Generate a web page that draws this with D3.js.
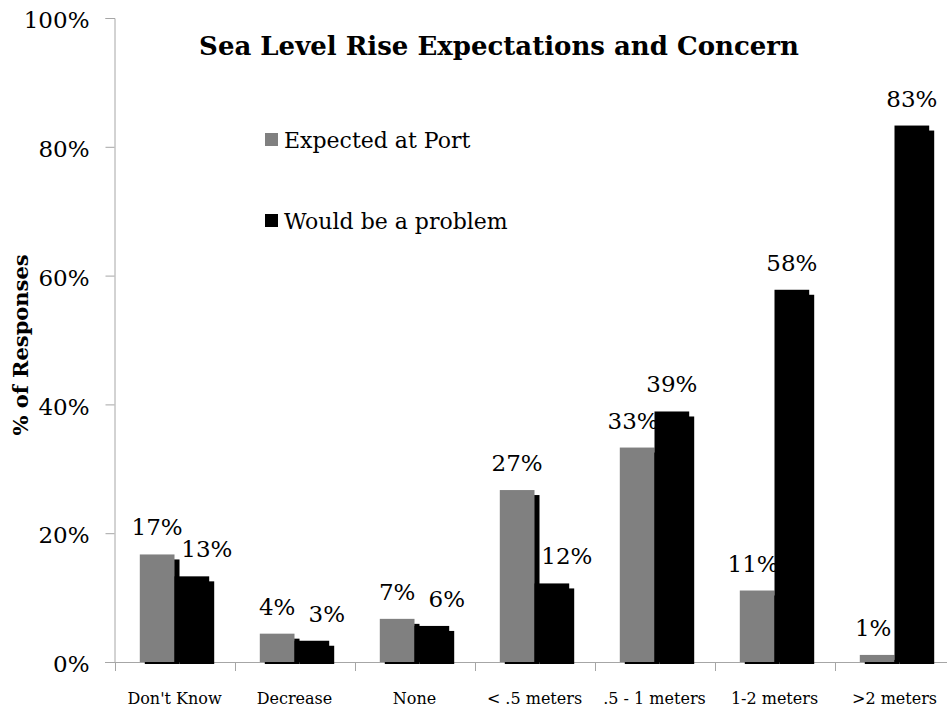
<!DOCTYPE html>
<html><head><meta charset="utf-8">
<script src="https://cdn.jsdelivr.net/npm/d3@7"></script>
<style>body{margin:0;background:#fff}svg{display:block}</style>
</head><body>
<svg id="c" width="947" height="710"></svg>
<script>
const categories = ["Don't Know","Decrease","None","< .5 meters",".5 - 1 meters","1-2 meters",">2 meters"];
const expectedAtPort = [0.167, 0.044, 0.067, 0.267, 0.333, 0.111, 0.011];
const wouldBeProblem = [0.133, 0.033, 0.056, 0.122, 0.389, 0.578, 0.833];
const yTicks = [0, 0.2, 0.4, 0.6, 0.8, 1.0];
const seriesNames = ["Expected at Port","Would be a problem"];
const seriesColors = ["#808080","#000000"];

const font = "'DejaVu Serif', serif";
const svg = d3.select("#c");
const x0 = 114.5, x1 = 954.5, yTop = 18, yBase = 662;
const x = d3.scaleBand().domain(categories).range([x0, x1]).paddingInner(0.4216).paddingOuter(0.2108);
const xs = d3.scaleBand().domain([0,1]).range([0, x.bandwidth()]);
const y = d3.scaleLinear().domain([0,1]).range([yBase, yTop]);

// axes
const yAxis = d3.axisLeft(y).tickValues(yTicks).tickFormat(d3.format(".0%")).tickSize(9).tickPadding(16);
const gy = svg.append("g").attr("transform", `translate(${x0},0)`).call(yAxis);
gy.select(".domain").attr("stroke","#a6a6a6");
gy.selectAll(".tick line").attr("stroke","#a6a6a6");
gy.selectAll(".tick text").attr("font-family",font).attr("font-size",23).attr("fill","#000").attr("dy","0.42em");

const xAxis = d3.axisBottom(x).tickSize(0).tickPadding(31);
const gx = svg.append("g").attr("transform", `translate(0,${yBase})`).call(xAxis);
gx.select(".domain").remove();
gx.selectAll(".tick text").attr("font-family",font).attr("font-size",16).attr("fill","#000");
// baseline line and category separators
svg.append("line").attr("x1",105).attr("x2",947).attr("y1",yBase+0.5).attr("y2",yBase+0.5).attr("stroke","#a6a6a6");
const seps = d3.range(categories.length+1).map(i => x0 + i*x.step());
svg.selectAll(".sep").data(seps).join("line")
  .attr("x1",d=>Math.round(d)+0.5).attr("x2",d=>Math.round(d)+0.5)
  .attr("y1",yBase).attr("y2",yBase+9).attr("stroke","#a6a6a6");

const series = [expectedAtPort, wouldBeProblem];
series.forEach((vals, si) => {
  const g = svg.append("g");
  g.selectAll(".sh").data(vals).join("rect")
    .attr("x",(d,i)=>x(categories[i])+xs(si)+5)
    .attr("y",d=>y(d)+5)
    .attr("width",xs.bandwidth())
    .attr("height",d=>Math.max(0,yBase+2-(y(d)+5)))
    .attr("fill","#000");
  g.selectAll(".b").data(vals).join("rect")
    .attr("x",(d,i)=>x(categories[i])+xs(si))
    .attr("y",d=>y(d))
    .attr("width",xs.bandwidth())
    .attr("height",d=>yBase-y(d))
    .attr("fill",seriesColors[si]);
});

// data labels
series.forEach((vals, si) => {
  svg.append("g").selectAll("text").data(vals).join("text")
    .attr("x",(d,i)=>{
      let cx = x(categories[i])+xs(si)+xs.bandwidth()/2;
      if (si===1 && d < 0.2) cx += 15;
      if (si===0 && wouldBeProblem[i] > d + 0.03) cx -= 4;
      return cx;
    })
    .attr("y",d=>y(d)-19)
    .attr("text-anchor","middle")
    .attr("font-family",font).attr("font-size",23).attr("fill","#000")
    .text(d=>d3.format(".0%")(d));
});

// title
svg.append("text").attr("x",499).attr("y",55).attr("text-anchor","middle")
  .attr("font-family",font).attr("font-weight","bold").attr("font-size",26)
  .text("Sea Level Rise Expectations and Concern");

// y title
svg.append("text").attr("transform","translate(28,345) rotate(-90)").attr("text-anchor","middle")
  .attr("font-family",font).attr("font-weight","bold").attr("font-size",21)
  .text("% of Responses");

// legend
const legY = [139, 220];
seriesNames.forEach((n,i)=>{
  svg.append("rect").attr("x",265).attr("y",legY[i]-6).attr("width",13).attr("height",13).attr("fill",seriesColors[i]);
  svg.append("text").attr("x",284).attr("y",legY[i]+9).attr("font-family",font).attr("font-size",22).text(n);
});
</script>
</body></html>
